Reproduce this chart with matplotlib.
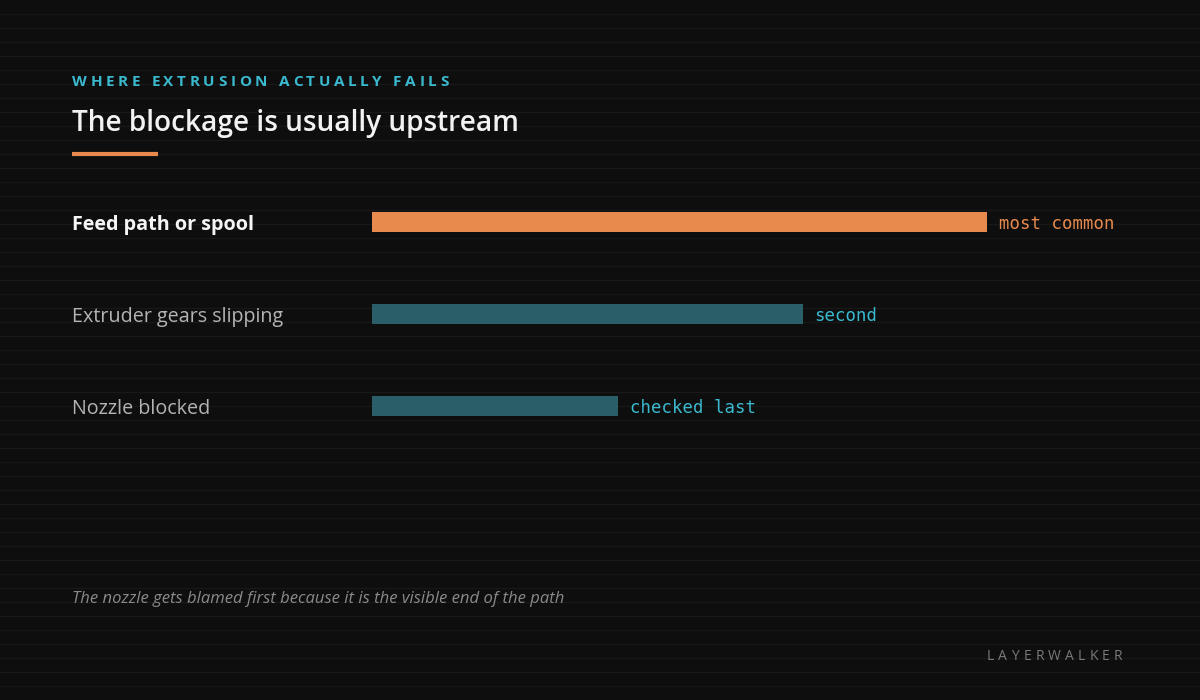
import numpy as np
import matplotlib
matplotlib.use("Agg")
import matplotlib.pyplot as plt

# data
categories = ["Feed path or spool", "Extruder gears slipping", "Nozzle blocked"]
values = [100, 70, 40]
value_labels = ["most common", "second", "checked last"]
highlight = [True, False, False]

eyebrow = "WHERE EXTRUSION ACTUALLY FAILS"
title = "The blockage is usually upstream"
footnote = "The nozzle gets blamed first because it is the visible end of the path"
brand = "LAYERWALKER"

BG = "#0e0e0e"
ORANGE = "#e8894d"
TEAL_BAR = "#2a5f69"
TEAL_TXT = "#3ab9cf"
W, H = 1200, 700

plt.rcParams['font.family'] = ['Open Sans', 'DejaVu Sans']

fig = plt.figure(figsize=(12, 7), dpi=100, facecolor=BG)

# background with faint scanlines
bg = fig.add_axes([0, 0, 1, 1])
bg.set_xlim(0, W)
bg.set_ylim(H, 0)
bg.axis('off')
bg.set_facecolor(BG)
for yy in np.arange(14, H, 14):
    bg.axhline(yy, color="#181818", linewidth=1.0, zorder=0)

renderer = fig.canvas.get_renderer()


def spaced_text(x, y, s, spacing, **kw):
    # draw letters one by one with extra tracking (pixel coords)
    for ch in s:
        t = bg.text(x, y, ch, va='center', ha='left', **kw)
        if ch == ' ':
            w = kw.get('fontsize', 10) * 100 / 72 * 0.28
        else:
            w = t.get_window_extent(renderer).width
        x += w + spacing


spaced_text(72, 82, eyebrow, 3.6, fontsize=11, fontweight='bold', color=TEAL_TXT)
bg.text(72, 124, title, fontsize=20.2, fontweight='semibold', color="#f2f2f2",
        va='center', ha='left')
bg.plot([72, 158], [154, 154], color=ORANGE, linewidth=3, solid_capstyle='butt')

# bar panel: left at 372px, value 100 at 987px
ax = fig.add_axes([372 / W, 1 - 452 / H, 615 / W, (452 - 176) / H])
ax.set_xlim(0, 100)
ypos = np.arange(len(categories))
ax.set_ylim(len(categories) - 0.5, -0.5)
ax.axis('off')
ax.patch.set_alpha(0)

colors = [ORANGE if h else TEAL_BAR for h in highlight]
ax.barh(ypos, values, height=20 / 92, color=colors)
for i, (v, lab, h) in enumerate(zip(values, value_labels, highlight)):
    ax.annotate(lab, (v, i), xytext=(8.5, -1.5), textcoords='offset points',
                va='center', ha='left', fontsize=12.5, family='DejaVu Sans Mono',
                color=ORANGE if h else TEAL_TXT, annotation_clip=False)
    bg.text(72, 225 + 92 * i, categories[i], va='center', ha='left', fontsize=14.2,
            fontweight='bold' if h else 'normal',
            color="#f5f5f5" if h else "#b4b4b4")

bg.text(72, 599, footnote, fontsize=12, style='italic', color="#8a8a8a",
        va='center', ha='left')
spaced_text(987, 656, brand, 4.2, fontsize=10, color="#7a7a7a")

fig.savefig("out.png", dpi=100, facecolor=BG)
